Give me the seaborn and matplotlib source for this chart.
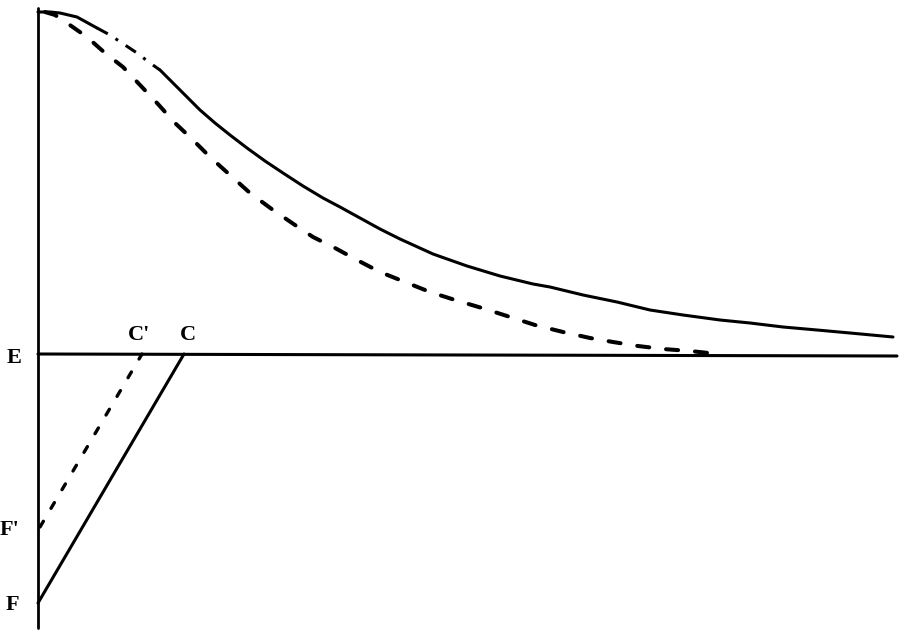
import matplotlib
matplotlib.use("Agg")
import matplotlib.pyplot as plt
import seaborn as sns

# Solid curve (upper)
solid_x = [0, 12, 22, 39, 59, 72, 84, 99, 112, 122, 135, 149, 162, 177, 192, 209, 227,
           245, 265, 285, 302, 322, 342, 362, 395, 429, 462, 495, 512, 545, 579, 612,
           645, 682, 712, 745, 779, 812, 855]
solid_y = [342, 342, 341, 337, 326, 319, 311, 301, 291, 284, 271, 257, 244, 231, 219, 206, 193,
           181, 168, 156, 147, 136, 125, 115, 100, 88, 78, 70, 67, 59, 52, 44,
           39, 34, 31, 27, 24, 21, 17]
# part of the solid curve that is drawn dash-dot (index range)
dashdot_start, dashdot_end = 4, 9

# Dashed curve (upper)
dashed_x = [7, 17, 29, 49, 67, 85, 102, 119, 137, 155, 172, 192, 212, 235, 257, 275, 297,
            319, 342, 367, 392, 417, 444, 469, 497, 525, 552, 575, 600, 625, 652, 680]
dashed_y = [342, 339, 331, 317, 301, 287, 269, 251, 231, 214, 197, 179, 161, 144, 129, 117, 106,
            94, 82, 72, 62, 54, 46, 38, 29, 22, 16, 12, 8, 5, 3, 0]

# Lower straight lines: F -> C (solid), F' -> C' (dotted)
fc_x = [0, 146]
fc_y = [-249, 0]
fpc_x = [2, 104]
fpc_y = [-173, 0]

# Axis lines
vert_x = [0, 0]
vert_y = [346, -274]
horiz_x = [0, 859]
horiz_y = [0, -2]

labels = ["E", "F", "F'", "C'", "C"]
label_x = [-24, -26, -29, 101, 150]
label_y = [-4, -251, -176, 19, 19]

sns.set_theme(style="white")
plt.rcParams['font.family'] = ['Liberation Serif', 'DejaVu Serif']

fig = plt.figure(figsize=(9, 6.31), dpi=100)
ax = fig.add_axes([0, 0, 1, 1])

k = dict(color="black", ax=ax, legend=False, sort=False, estimator=None)
sns.lineplot(x=vert_x, y=vert_y, linewidth=2.0, **k)
sns.lineplot(x=horiz_x, y=horiz_y, linewidth=2.2, **k)

sns.lineplot(x=solid_x[:dashdot_start + 1], y=solid_y[:dashdot_start + 1], linewidth=2.2, **k)
ax.lines[-1].set_solid_joinstyle("round")
sns.lineplot(x=solid_x[dashdot_start:dashdot_end + 1], y=solid_y[dashdot_start:dashdot_end + 1],
             linewidth=2.2, **k)
ax.lines[-1].set_dashes([4, 3, 1, 3])
sns.lineplot(x=solid_x[dashdot_end:], y=solid_y[dashdot_end:], linewidth=2.2, **k)
ax.lines[-1].set_solid_joinstyle("round")

sns.lineplot(x=dashed_x, y=dashed_y, linewidth=2.9, **k)
ax.lines[-1].set_dashes([3.0, 4.2])
ax.lines[-1].set_dash_capstyle("round")

sns.lineplot(x=fc_x, y=fc_y, linewidth=2.2, **k)
sns.lineplot(x=fpc_x, y=fpc_y, linewidth=2.4, **k)
ax.lines[-1].set_dashes([2.0, 4.5])
ax.lines[-1].set_dash_capstyle("round")

for t, x, y in zip(labels, label_x, label_y):
    ax.text(x, y, t, fontsize=16, fontweight="bold", ha="center", va="center",
            color="black")

ax.set_xlim(-38, 862)
ax.set_ylim(-277, 354)
ax.axis("off")

fig.savefig("out.png", dpi=100, facecolor="white")
